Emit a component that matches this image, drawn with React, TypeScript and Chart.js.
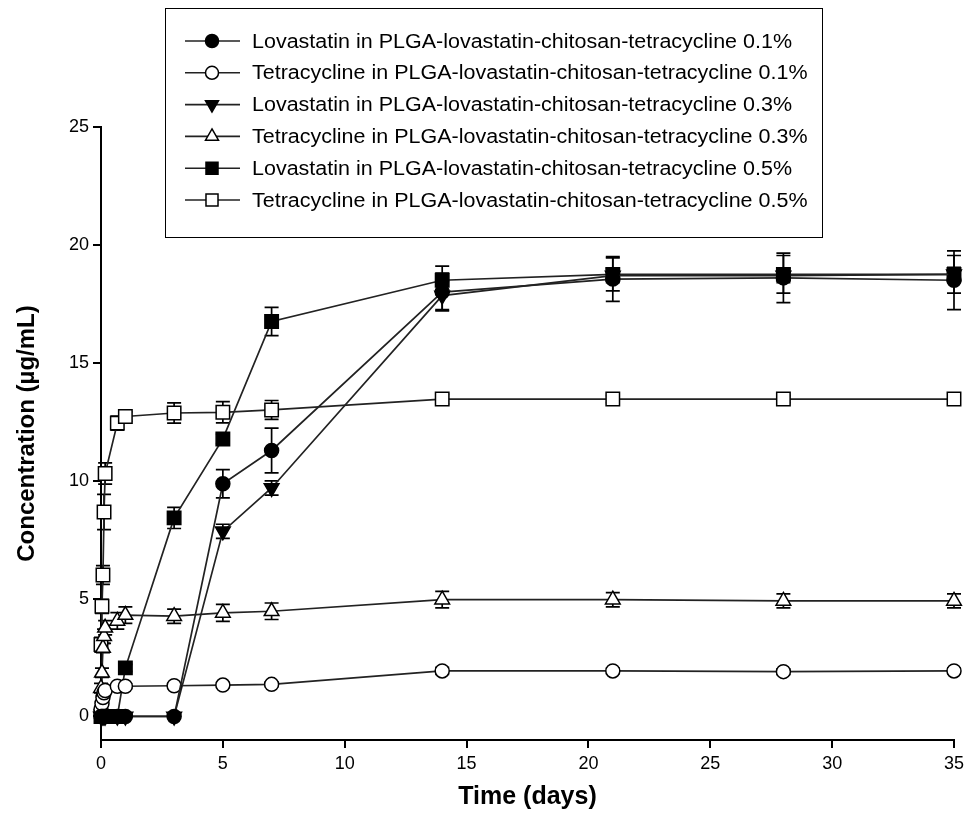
import React, { useEffect, useRef } from "react";
import { Chart, registerables } from "chart.js";

Chart.register(...registerables);

const times = [0, 0.04, 0.08, 0.125, 0.17, 0.67, 1, 3, 5, 7, 14, 21, 28, 35];

const lova01 = [0, 0, 0, 0, 0, 0, 0, 0, 9.87, 11.28, 18.0, 18.55, 18.6, 18.5];
const lova01Err = [0, 0, 0, 0, 0, 0, 0, 0, 0.6, 0.95, 0.8, 0.95, 1.05, 1.25];
const tet01 = [0.3, 0.55, 0.8, 1.0, 1.1, 1.28, 1.28, 1.3, 1.33, 1.36, 1.93, 1.93, 1.9, 1.93];
const tet01Err = [0.1, 0.1, 0.1, 0.1, 0.1, 0.1, 0.1, 0.1, 0.1, 0.1, 0.15, 0.12, 0.12, 0.12];
const lova03 = [0, 0, 0, 0, 0, 0, 0, 0, 7.85, 9.69, 17.85, 18.7, 18.7, 18.75];
const lova03Err = [0, 0, 0, 0, 0, 0, 0, 0, 0.3, 0.3, 0.6, 0.3, 0.3, 0.3];
const tet03 = [1.2, 1.85, 2.9, 3.4, 3.76, 4.05, 4.3, 4.25, 4.39, 4.46, 4.95, 4.95, 4.9, 4.9];
const tet03Err = [0.2, 0.2, 0.2, 0.3, 0.3, 0.35, 0.35, 0.3, 0.36, 0.35, 0.35, 0.3, 0.3, 0.3];
const lova05 = [0, 0, 0, 0, 0, 0, 2.06, 8.42, 11.77, 16.75, 18.5, 18.75, 18.75, 18.75];
const lova05Err = [0, 0, 0, 0, 0, 0, 0.15, 0.45, 0.2, 0.6, 0.6, 0.7, 0.8, 0.8];
const tet05 = [3.05, 4.67, 6.0, 8.67, 10.3, 12.44, 12.72, 12.87, 12.9, 13.0, 13.46, 13.46, 13.46, 13.46];
const tet05Err = [0.3, 0.3, 0.4, 0.75, 0.45, 0.3, 0.2, 0.43, 0.45, 0.4, 0.2, 0.15, 0.15, 0.15];

const seriesLabels = [
  "Lovastatin in PLGA-lovastatin-chitosan-tetracycline 0.1%",
  "Tetracycline in PLGA-lovastatin-chitosan-tetracycline 0.1%",
  "Lovastatin in PLGA-lovastatin-chitosan-tetracycline 0.3%",
  "Tetracycline in PLGA-lovastatin-chitosan-tetracycline 0.3%",
  "Lovastatin in PLGA-lovastatin-chitosan-tetracycline 0.5%",
  "Tetracycline in PLGA-lovastatin-chitosan-tetracycline 0.5%",
];
const seriesValues = [lova01, tet01, lova03, tet03, lova05, tet05];
const seriesErrors = [lova01Err, tet01Err, lova03Err, tet03Err, lova05Err, tet05Err];
const yTicks = [0, 5, 10, 15, 20, 25];

const FONT = "'Liberation Sans', Arial, Helvetica, sans-serif";
const LINE = "#222";

type Marker = { style: string; rotation: number; fill: string; radius: number };
const markers: Marker[] = [
  { style: "circle", rotation: 0, fill: "#000", radius: 7 },
  { style: "circle", rotation: 0, fill: "#fff", radius: 7 },
  { style: "triangle", rotation: 180, fill: "#000", radius: 8.5 },
  { style: "triangle", rotation: 0, fill: "#fff", radius: 8.5 },
  { style: "rect", rotation: 0, fill: "#000", radius: 9.5 },
  { style: "rect", rotation: 0, fill: "#fff", radius: 9.5 },
];

function drawMarker(ctx: CanvasRenderingContext2D, m: Marker, x: number, y: number, r: number) {
  ctx.save();
  ctx.fillStyle = m.fill;
  ctx.strokeStyle = "#000";
  ctx.lineWidth = 1.5;
  ctx.beginPath();
  if (m.style === "circle") {
    ctx.arc(x, y, r, 0, Math.PI * 2);
  } else if (m.style === "rect") {
    const s = r * Math.SQRT1_2;
    ctx.rect(x - s, y - s, 2 * s, 2 * s);
  } else {
    let rad = (m.rotation * Math.PI) / 180;
    for (let k = 0; k < 3; k++) {
      const px = x + Math.sin(rad) * r;
      const py = y - Math.cos(rad) * r;
      if (k === 0) ctx.moveTo(px, py);
      else ctx.lineTo(px, py);
      rad += (2 * Math.PI) / 3;
    }
    ctx.closePath();
  }
  ctx.fill();
  ctx.stroke();
  ctx.restore();
}

const errorBarPlugin = {
  id: "errorBars",
  beforeDatasetsDraw(chart: any) {
    const ctx = chart.ctx as CanvasRenderingContext2D;
    const yScale = chart.scales.y;
    ctx.save();
    ctx.strokeStyle = "#000";
    ctx.lineWidth = 1.7;
    chart.data.datasets.forEach((ds: any, i: number) => {
      const meta = chart.getDatasetMeta(i);
      const errs = seriesErrors[i];
      meta.data.forEach((el: any, j: number) => {
        const e = errs[j];
        if (!e) return;
        const v = seriesValues[i][j];
        const yt = yScale.getPixelForValue(v + e);
        const yb = yScale.getPixelForValue(v - e);
        const x = el.x;
        ctx.beginPath();
        ctx.moveTo(x, yt);
        ctx.lineTo(x, yb);
        ctx.moveTo(x - 7, yt);
        ctx.lineTo(x + 7, yt);
        ctx.moveTo(x - 7, yb);
        ctx.lineTo(x + 7, yb);
        ctx.stroke();
      });
    });
    ctx.restore();
  },
};

const legendPlugin = {
  id: "customLegend",
  afterDraw(chart: any) {
    const ctx = chart.ctx as CanvasRenderingContext2D;
    const bx = 165, by = 8, bw = 657, bh = 229;
    ctx.save();
    ctx.fillStyle = "#fff";
    ctx.fillRect(bx, by, bw, bh);
    ctx.strokeStyle = "#000";
    ctx.lineWidth = 1;
    ctx.strokeRect(bx + 0.5, by + 0.5, bw, bh);
    ctx.font = `20px ${FONT}`;
    ctx.textBaseline = "middle";
    ctx.textAlign = "left";
    const w0 = ctx.measureText(seriesLabels[0]).width;
    const sx = w0 > 0 ? 540 / w0 : 1;
    seriesLabels.forEach((label, i) => {
      const y = 41 + i * 31.8;
      ctx.strokeStyle = LINE;
      ctx.lineWidth = 1.6;
      ctx.beginPath();
      ctx.moveTo(185, y);
      ctx.lineTo(240, y);
      ctx.stroke();
      const m = markers[i];
      drawMarker(ctx, m, 212, y, m.style === "rect" ? 8.5 : m.style === "triangle" ? 7.5 : 6.5);
      ctx.save();
      ctx.translate(252, y + 1);
      ctx.scale(sx, 1);
      ctx.fillStyle = "#000";
      ctx.fillText(label, 0, 0);
      ctx.restore();
    });
    ctx.restore();
  },
};

export default function App() {
  const ref = useRef<HTMLCanvasElement | null>(null);
  useEffect(() => {
    if (!ref.current) return;
    const datasets = seriesValues.map((vals, i) => ({
      label: seriesLabels[i],
      data: vals.map((v, j) => ({ x: times[j], y: v })),
      borderColor: LINE,
      borderWidth: 1.7,
      pointStyle: markers[i].style,
      pointRotation: markers[i].rotation,
      pointRadius: markers[i].radius,
      pointBackgroundColor: markers[i].fill,
      pointBorderColor: "#000",
      pointBorderWidth: 1.5,
      fill: false,
      tension: 0,
      clip: false,
    }));
    const chart = new Chart(ref.current, {
      type: "line",
      data: { datasets },
      plugins: [errorBarPlugin, legendPlugin],
      options: {
        animation: false,
        responsive: true,
        maintainAspectRatio: false,
        layout: { padding: { top: 127, right: 5, left: 0, bottom: 0 } },
        plugins: { legend: { display: false }, tooltip: { enabled: false } },
        scales: {
          x: {
            type: "linear",
            min: 0,
            max: 35,
            ticks: { stepSize: 5, color: "#000", font: { family: FONT, size: 18 }, padding: 5 },
            grid: { drawOnChartArea: false, drawTicks: true, tickLength: 8, color: "#000", lineWidth: 2 },
            border: { display: true, color: "#000", width: 2 },
            title: {
              display: true,
              text: "Time (days)",
              color: "#000",
              font: { family: FONT, size: 25, weight: "bold" },
              padding: { top: 2, bottom: 1 },
            },
            afterFit: (s: any) => {
              s.height = 73;
              s.paddingLeft = 0;
              s.paddingRight = 0;
            },
          },
          y: {
            type: "linear",
            min: -1,
            max: 25,
            afterBuildTicks: (s: any) => {
              s.ticks = yTicks.map((v) => ({ value: v }));
            },
            ticks: { color: "#000", font: { family: FONT, size: 18 }, padding: 4 },
            grid: { drawOnChartArea: false, drawTicks: true, tickLength: 8, color: "#000", lineWidth: 2 },
            border: { display: true, color: "#000", width: 2 },
            title: {
              display: true,
              text: "Concentration (µg/mL)",
              color: "#000",
              font: { family: FONT, size: 24, weight: "bold" },
              padding: { top: 13, bottom: 4 },
            },
            afterFit: (s: any) => {
              s.width = 101;
            },
          },
        },
      },
    } as any);
    return () => chart.destroy();
  }, []);
  return (
    <div style={{ position: "fixed", left: 0, top: 0, width: 965, height: 813, background: "#fff" }}>
      <canvas ref={ref} />
    </div>
  );
}
